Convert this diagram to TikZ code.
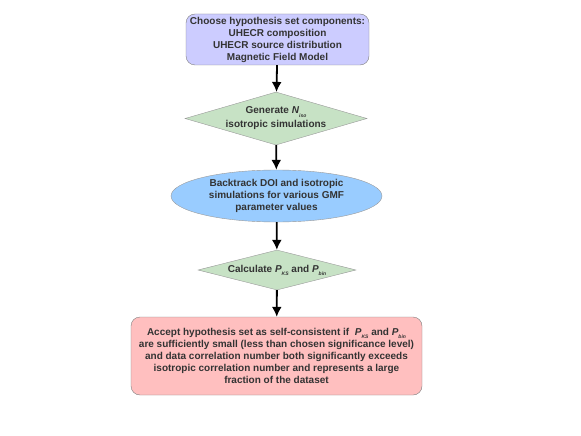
\documentclass[tikz,border=0pt]{standalone}
\usepackage{fontspec}
\setmainfont{Liberation Sans}
\usepackage{tikz}
\usetikzlibrary{shapes.geometric, arrows.meta}

\definecolor{boxblue}{RGB}{204,204,255}
\definecolor{boxgreen}{RGB}{199,226,197}
\definecolor{ellblue}{RGB}{153,204,255}
\definecolor{boxpink}{RGB}{255,191,191}
\definecolor{txtgray}{RGB}{51,51,51}

\newcommand{\Psub}[1]{\textit{P}\raisebox{-0.6ex}{\fontsize{5}{6}\selectfont\textit{#1}}}

\begin{document}
\begin{tikzpicture}[x=1pt, y=1pt,
    every node/.style={font=\fontsize{10}{12}\selectfont\bfseries, text=txtgray, align=center, inner sep=0pt},
    roundbox/.style={draw=gray, rounded corners=9pt},
    decision/.style={diamond, draw=gray!80, fill=boxgreen},
    flowarrow/.style={-{Latex[length=10pt, width=10pt]}, line width=1.8pt}]
    \useasboundingbox (0,0) rectangle (581,-436);

    \node[roundbox, fill=boxblue, minimum width=183pt, minimum height=51pt] (choose) at (277.5,-39.5)
        {Choose hypothesis set components:\\UHECR composition\\UHECR source distribution\\Magnetic Field Model};
    \node[decision, aspect=3.43, minimum width=182pt, minimum height=53pt] (generate) at (276,-118.5)
        {Generate \textit{N}\raisebox{-0.6ex}{\fontsize{5}{6}\selectfont\textit{iso}}\\[2pt]isotropic simulations};
    \node[ellipse, draw=gray!80, fill=ellblue, minimum width=211pt, minimum height=52pt] (backtrack) at (276.5,-196)
        {Backtrack DOI and isotropic\\simulations for various GMF\\parameter values};
    \node[decision, aspect=3.95, minimum width=158pt, minimum height=40pt] (calc) at (277,-270)
        {Calculate \Psub{KS} and \Psub{bin}};
    \node[roundbox, fill=boxpink, minimum width=291pt, minimum height=78pt] (accept) at (276.5,-356)
        {Accept hypothesis set as self-consistent if~ \Psub{KS} and \Psub{bin}\\
         are sufficiently small (less than chosen significance level)\\
         and data correlation number both significantly exceeds\\
         isotropic correlation number and represents a large\\
         fraction of the dataset};

    \draw[flowarrow] (choose) -- (generate);
    \draw[flowarrow] (generate) -- (backtrack);
    \draw[flowarrow] (backtrack) -- (calc);
    \draw[flowarrow] (calc) -- (accept);
\end{tikzpicture}
\end{document}
